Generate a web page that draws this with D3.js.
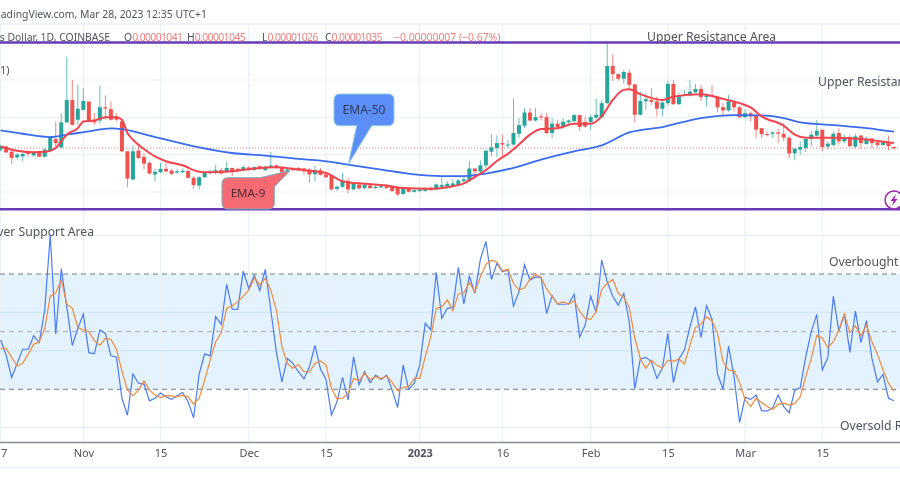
<!DOCTYPE html>
<html>
<head>
<meta charset="utf-8">
<script src="https://cdn.jsdelivr.net/npm/d3@7"></script>
<style>
  html, body { margin: 0; padding: 0; background: #fff; overflow: hidden; }
  svg { display: block; font-family: "Noto Sans", sans-serif; filter: blur(0.35px); }
</style>
</head>
<body>
<svg id="chart" width="900" height="500"></svg>
<script>
// prices are in 1e-8 USD
const opens = [1027,1044,1016,986,991,1009,996,1016,989,1018,
  1084,1039,1173,1293,1187,1240,1285,1183,1183,1254,
  1244,1205,1178,1018,867,1022,988,956,894,906,
  924,915,904,906,913,876,835,879,902,902,
  917,908,929,924,915,931,918,938,917,929,
  943,929,908,929,929,926,920,895,917,894,
  890,817,828,858,814,840,821,835,821,824,
  831,828,822,789,819,801,805,806,822,814,
  828,828,831,838,858,863,926,910,943,1016,
  1036,1062,1050,1054,1112,1155,1226,1183,1205,1201,
  1116,1166,1155,1173,1180,1212,1176,1176,1199,1201,
  1276,1475,1432,1407,1439,1377,1214,1286,1293,1285,
  1246,1276,1379,1270,1315,1317,1334,1352,1308,1320,
  1311,1254,1237,1281,1254,1201,1222,1208,1142,1110,
  1112,1119,1112,1091,1007,1027,1036,1084,1102,1134,
  1043,1052,1116,1071,1094,1043,1102,1057,1087,1066,
  1052,1066,1041];
const closes = [1044,1012,982,1000,1004,1004,1012,989,1027,1094,
  1062,1173,1293,1160,1246,1288,1178,1173,1254,1247,
  1187,1187,1018,872,1018,982,952,899,908,924,
  910,897,911,913,876,837,879,902,910,917,
  899,929,908,913,933,918,933,924,936,942,
  929,906,920,917,917,911,894,917,892,879,
  814,828,854,814,846,819,838,821,828,831,
  822,805,787,821,801,810,814,819,810,840,
  838,844,846,862,867,926,911,943,1021,1039,
  1062,1054,1054,1116,1158,1226,1183,1201,1201,1116,
  1166,1148,1176,1183,1212,1148,1151,1201,1214,1276,
  1475,1432,1407,1443,1374,1214,1288,1297,1283,1246,
  1279,1379,1270,1317,1320,1338,1352,1308,1315,1315,
  1253,1237,1285,1254,1201,1222,1205,1134,1110,1107,
  1119,1112,1091,1006,1032,1041,1084,1107,1128,1041,
  1059,1112,1071,1086,1045,1098,1062,1080,1062,1052,
  1066,1045,1035];
const highs = [1053,1048,1023,1009,1009,1016,1018,1020,1036,1098,
  1178,1222,1525,1400,1374,1356,1285,1222,1368,1317,
  1285,1222,1187,1018,1050,1044,1009,965,924,956,
  959,924,924,926,920,885,885,911,920,947,
  929,961,929,931,942,938,938,943,942,1016,
  949,934,926,934,933,929,929,942,929,911,
  894,835,902,876,849,853,846,840,835,838,
  840,835,831,824,822,814,821,822,826,846,
  879,858,867,867,885,965,926,970,1027,1110,
  1103,1107,1080,1299,1196,1249,1249,1249,1222,1222,
  1196,1187,1196,1190,1219,1215,1205,1214,1299,1293,
  1596,1537,1432,1454,1457,1377,1338,1329,1356,1311,
  1293,1395,1400,1329,1347,1400,1379,1374,1320,1374,
  1317,1276,1320,1293,1262,1244,1231,1208,1142,1125,
  1125,1137,1169,1098,1036,1071,1089,1125,1187,1134,
  1071,1125,1142,1107,1107,1112,1107,1098,1089,1071,
  1071,1102,1045];
const lows = [1018,1009,950,977,965,991,991,986,986,1014,
  1039,1036,1169,1155,1160,1237,1173,1160,1166,1187,
  1183,1178,1013,826,862,977,920,894,856,902,
  906,894,899,899,872,817,814,876,894,894,
  894,902,885,906,910,913,913,918,913,929,
  924,901,904,911,911,894,849,858,888,876,
  808,805,822,792,810,814,817,817,817,821,
  817,801,778,785,798,798,801,801,806,810,
  822,817,828,835,849,858,867,902,929,991,
  991,991,1036,1050,1089,1142,1178,1178,1183,1110,
  1089,1142,1137,1166,1173,1125,1142,1134,1187,1196,
  1272,1395,1397,1382,1350,1173,1210,1240,1267,1205,
  1205,1262,1267,1267,1311,1311,1329,1288,1258,1311,
  1226,1205,1231,1231,1196,1196,1178,1089,1089,1098,
  1089,1062,1071,982,970,1000,1014,1045,1098,1018,
  1027,1045,1054,1062,1041,1036,1032,1054,1036,1041,
  1048,1023,1026];

const ema9Days = [0,3,6,8,10,11,12,14,15,17,19,21,22,23,24,26,27,28,30,33,36,38,42,46,50,54,
  59,62,66,70,73,78,81,84,86,88,90,92,94,96,98,101,104,107,109,111,113,114,116,120,122,127,
  131,134,136,138,142,144,146,150,156,162];
const ema9 = [1044,1021,1013,1015,1036,1071,1107,1142,1178,1183,1201,1201,1187,1116,1080,1030,1009,991,965,943,909,906,911,926,933,920,
  902,858,844,835,821,817,826,846,881,917,966,1005,1055,1107,1137,1142,1166,1166,1205,1293,1347,1350,1324,1293,1311,1324,
  1299,1276,1253,1205,1155,1107,1091,1091,1084,1062];
const ema50Days = [0,4,9,12,16,20,22,27,36,42,48,54,58,63,69,75,80,84,88,93,98,104,109,114,120,127,133,138,142,145,151,157,162];
const ema50 = [1130,1112,1094,1107,1125,1141,1137,1102,1039,1009,995,977,968,947,920,894,885,885,899,929,974,1018,1050,1119,1148,1196,1212,1210,1196,1173,1158,1142,1123];

const rsi = [47.1,41.9,34.1,39.0,43.9,43.9,48.6,46.2,57.5,83.5,
  49.2,71.8,58.6,45.2,51.1,56.1,42.7,42.3,50.6,49.4,
  41.6,41.2,26.9,21.0,35.3,32.1,31.8,26.0,26.9,28.7,
  27.4,26.5,27.8,28.9,25.7,20.1,35.3,42.3,41.6,55.2,
  52.5,66.4,57.8,57.7,71.0,65.0,69.5,64.3,71.6,57.5,
  43.0,32.6,40.7,39.0,36.1,33.6,37.8,45.2,37.0,33.4,
  21.1,25.7,34.1,26.3,41.3,31.6,36.1,32.3,34.9,33.4,
  34.9,29.7,23.7,38.4,30.0,32.1,38.4,52.9,50.6,70.6,
  54.6,58.1,58.4,72.3,59.6,69.3,63.3,75.1,81.3,68.1,
  73.7,70.8,71.4,58.9,63.8,73.2,67.9,69.0,68.8,56.3,
  62.5,59.5,59.5,59.6,63.0,48.1,52.3,62.3,56.7,74.8,
  67.3,62.3,59.2,63.3,53.4,30.2,40.5,41.1,39.6,33.8,
  37.3,49.4,32.3,40.5,43.6,51.7,58.6,48.0,59.0,54.3,
  35.2,30.1,45.0,34.4,18.4,27.2,26.5,28.0,22.5,22.5,
  23.6,28.0,24.0,21.9,29.7,30.5,41.3,50.0,56.0,36.7,
  41.0,62.3,50.2,56.1,42.8,57.1,46.2,53.8,40.7,32.6,
  35.2,26.9,26.0];
const rsiSignal = [44.2,44.2,41.1,38.1,39.0,42.2,45.6,46.4,51.1,62.3,
  63.5,67.9,59.5,58.1,51.4,50.6,50.0,46.9,45.2,47.7,
  47.3,43.9,36.4,29.7,27.8,29.7,32.9,29.7,28.0,27.1,
  27.8,27.7,27.4,27.9,27.4,24.9,26.9,33.2,40.1,46.5,
  49.6,58.1,58.9,60.4,62.3,64.4,68.7,66.2,68.5,64.4,
  57.5,44.8,39.0,37.3,38.6,36.1,36.0,39.0,39.8,38.4,
  30.3,26.7,26.9,28.6,33.8,33.0,35.5,33.4,34.4,33.7,
  34.6,32.4,29.4,30.6,30.9,33.8,33.8,41.3,48.2,58.1,
  58.6,61.0,57.3,63.0,63.5,67.0,63.8,69.0,73.3,74.8,
  74.2,71.0,71.7,66.7,64.4,65.2,68.2,69.9,68.8,64.8,
  62.3,59.6,60.4,59.6,60.7,57.1,54.6,54.3,56.9,64.7,
  66.7,68.2,63.3,61.9,58.4,47.7,40.7,37.3,40.1,38.4,
  37.3,40.1,39.7,40.5,38.8,45.3,51.4,52.6,55.2,53.8,
  49.4,39.6,36.7,36.4,32.4,26.3,24.0,26.9,25.4,24.0,
  23.0,24.8,25.2,24.5,25.1,27.4,34.4,40.7,48.8,47.7,
  44.5,46.5,50.6,56.1,49.6,52.0,48.6,52.3,46.5,42.1,
  36.7,32.1,29.4];

const tickDays = [0,15,29,45,59,76,91,107,121,135,149];
const tickLabels = ["17","Nov","15","Dec","15","2023","16","Feb","15","Mar","15"];
const priceGrid = [800,1000,1200,1400];
const rsiGrid = [83.3,56.7,43.3,16.7];
const rsiLevels = [70,50,30];
const lastClose = 1035;

const svg = d3.select("#chart");
const x = d3.scaleLinear().domain([0, 162]).range([0.6, 894]);
const yP = d3.scaleLinear().domain([800, 1400]).range([192, 80]);
const yR = d3.scaleLinear().domain([30, 70]).range([389.3, 274]);

const UP = "#26a69a", DOWN = "#ef5350", GRID = "#eaf1f7", TXT = "#50535e";

// frame bands
svg.append("rect").attr("x", 0).attr("y", 23).attr("width", 900).attr("height", 2).attr("fill", "#f0f3fa");
svg.append("rect").attr("x", 0).attr("y", 466.5).attr("width", 900).attr("height", 2).attr("fill", "#f0f3fa");

// rsi band
svg.append("rect").attr("x", 0).attr("y", yR(70)).attr("width", 900)
  .attr("height", yR(30) - yR(70)).attr("fill", "#e3f2fd");

// grid
svg.append("g").selectAll("line").data(tickDays).join("line")
  .attr("x1", d => x(d)).attr("x2", d => x(d)).attr("y1", 25).attr("y2", 442)
  .attr("stroke", GRID).attr("stroke-width", 1.2);
svg.append("g").selectAll("line").data(priceGrid).join("line")
  .attr("x1", 0).attr("x2", 900).attr("y1", d => yP(d)).attr("y2", d => yP(d))
  .attr("stroke", GRID).attr("stroke-width", 1.2);
svg.append("g").selectAll("line").data(rsiGrid).join("line")
  .attr("x1", 0).attr("x2", 900).attr("y1", d => yR(d)).attr("y2", d => yR(d))
  .attr("stroke", d => (d > 30 && d < 70) ? "#d3e7f5" : GRID).attr("stroke-width", 1.2);

// last price
svg.append("line").attr("x1", 0).attr("x2", 900)
  .attr("y1", yP(lastClose)).attr("y2", yP(lastClose))
  .attr("stroke", DOWN).attr("stroke-width", 1).attr("stroke-dasharray", "1 2").attr("opacity", 0.8);

// candles
const candles = svg.append("g").selectAll("g").data(d3.range(opens.length)).join("g");
candles.append("line")
  .attr("x1", i => x(i)).attr("x2", i => x(i))
  .attr("y1", i => yP(highs[i])).attr("y2", i => yP(lows[i]))
  .attr("stroke", i => closes[i] >= opens[i] ? UP : DOWN).attr("stroke-width", 1).attr("opacity", 0.7);
candles.append("rect")
  .attr("x", i => x(i) - 2).attr("width", 4)
  .attr("y", i => yP(Math.max(opens[i], closes[i])))
  .attr("height", i => Math.max(1, Math.abs(yP(opens[i]) - yP(closes[i]))))
  .attr("fill", i => closes[i] >= opens[i] ? UP : DOWN);

// ema lines
const emaLine = days => d3.line().x((d, i) => x(days[i])).y(d => yP(d)).curve(d3.curveMonotoneX);
svg.append("path").attr("d", emaLine(ema50Days)(ema50)).attr("fill", "none").attr("stroke", "#3a6cf0").attr("stroke-width", 1.8);
svg.append("path").attr("d", emaLine(ema9Days)(ema9)).attr("fill", "none").attr("stroke", "#f2444f").attr("stroke-width", 2);

// rsi
svg.append("g").selectAll("line").data(rsiLevels).join("line")
  .attr("x1", 0).attr("x2", 900).attr("y1", d => yR(d)).attr("y2", d => yR(d))
  .attr("stroke", d => d === 50 ? "#a9adb5" : "#787b86").attr("stroke-width", 1).attr("stroke-dasharray", "5 4");
const rsiLine = d3.line().x((d, i) => x(i)).y(d => yR(d));
svg.append("path").attr("d", rsiLine(rsi)).attr("fill", "none").attr("stroke", "#4c7cf3").attr("stroke-width", 1.2);
svg.append("path").attr("d", rsiLine(rsiSignal)).attr("fill", "none").attr("stroke", "#f58a3a").attr("stroke-width", 1.2);

// time axis
const axis = svg.append("g").attr("transform", "translate(0,442.5)")
  .call(d3.axisBottom(x).tickValues(tickDays).tickSize(0).tickPadding(7).tickFormat((d, i) => tickLabels[i]));
axis.select(".domain").attr("d", "M0,0H900").attr("stroke", "#8b8e97").attr("stroke-width", 1.5);
axis.selectAll("text").attr("fill", TXT).attr("font-size", 11).attr("font-family", '"Noto Sans", sans-serif')
  .attr("font-weight", (d, i) => tickLabels[i] === "2023" ? 700 : 400);

// header
const label = (txt, px, py, opts = {}) => svg.append("text").attr("x", px).attr("y", py)
  .attr("font-size", opts.size || 12.2).attr("fill", opts.fill || TXT).attr("text-anchor", opts.anchor || "start").text(txt);
label("adingView.com, Mar 28, 2023 12:35 UTC+1", 207, 18, { anchor: "end", size: 10.4 });
label("s Dollar, 1D, COINBASE", 110, 41, { anchor: "end", size: 10.4 });
const legendParts = [["O", TXT, 124], ["0.00001041", DOWN, null], ["H", TXT, 187], ["0.00001045", DOWN, null], ["L", TXT, 262], ["0.00001026", DOWN, null], ["C", TXT, 325], ["0.00001035", DOWN, null], ["\u22120.00000007 (\u22120.67%)", DOWN, 394]];
svg.append("text").attr("y", 41).attr("font-size", 10.4)
  .selectAll("tspan").data(legendParts).join("tspan")
  .attr("x", d => d[2]).attr("fill", d => d[1]).attr("fill-opacity", d => d[1] === DOWN ? 0.75 : 1)
  .attr("letter-spacing", d => d[2] === null ? -0.6 : 0).text(d => d[0]);
label("1)", 0, 74, { size: 11 });

// purple lines
svg.append("line").attr("x1", 0).attr("x2", 900).attr("y1", 42.5).attr("y2", 42.5).attr("stroke", "#673ab7").attr("stroke-width", 2.4);
svg.append("line").attr("x1", 0).attr("x2", 900).attr("y1", 209.3).attr("y2", 209.3).attr("stroke", "#673ab7").attr("stroke-width", 2.4);

// replay icon
const icon = svg.append("g").attr("transform", "translate(894,200)");
icon.append("circle").attr("r", 9).attr("fill", "#fff").attr("stroke", "#9c27b0").attr("stroke-width", 1.5);
icon.append("path").attr("d", "M2,-6 L-3.5,1 H-0.5 L-2,6 L3.5,-1 H0.5 Z").attr("fill", "#9c27b0");

// annotations
label("Upper Resistance Area", 647, 41);
label("Upper Resistan", 818, 86);
label("ver Support Area", 94, 236, { anchor: "end" });
label("Overbought", 829, 266);
label("Oversold R", 840, 430);

// callouts
svg.append("path").attr("d", "M340,94 H388 Q394,94 394,100 V119.7 Q394,125.7 388,125.7 H371.7 L348.3,164.3 L356.7,125.7 H340 Q334,125.7 334,119.7 V100 Q334,94 340,94 Z")
  .attr("fill", "#5b8ef7").attr("stroke", "#8fd0e0").attr("stroke-width", 1);
label("EMA-50", 364, 114, { anchor: "middle", fill: "#2f3a5c", size: 12 });
svg.append("path").attr("d", "M228,177.7 H260 L290,170.7 L274.3,186.7 V203 Q274.3,209 268,209 H228 Q222,209 222,203 V183.7 Q222,177.7 228,177.7 Z")
  .attr("fill", "#f66a74").attr("stroke", "#78aeb5").attr("stroke-width", 1);
label("EMA-9", 248, 197, { anchor: "middle", fill: "#4a2a33", size: 11.6 });
</script>
</body>
</html>
